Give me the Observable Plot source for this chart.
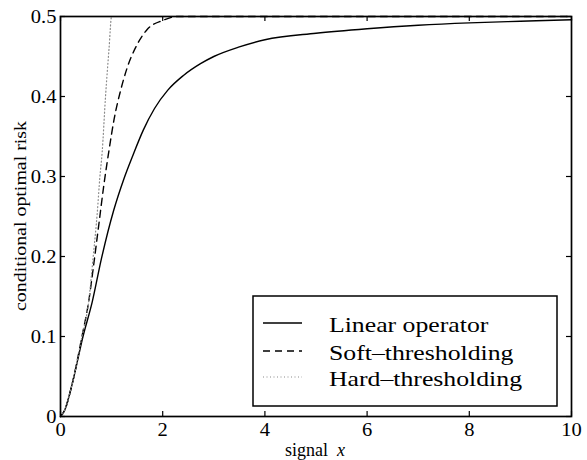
<!DOCTYPE html>
<html><head><meta charset="utf-8">
<script src="https://cdn.jsdelivr.net/npm/d3@7"></script>
<script src="https://cdn.jsdelivr.net/npm/@observablehq/plot@0.6"></script>
<style>
body{margin:0;background:#fff}
#chart{position:relative;width:587px;height:460px}
#chart svg text{font-family:"Liberation Serif","Times New Roman",serif}
</style>
</head><body><div id="chart"></div>
<script>
const xTicks = [0, 2, 4, 6, 8, 10];
const yTicks = [0, 0.1, 0.2, 0.3, 0.4, 0.5];
const seriesNames = ["Linear operator", "Soft\u2013thresholding", "Hard\u2013thresholding"];

const linearX = [0, 0.08, 0.23, 0.44, 0.62, 0.8, 1.04, 1.24, 1.42, 1.62, 1.84, 2.1, 2.4, 2.74, 3.0, 3.5, 4, 5, 6, 7, 8, 9, 10];
const linearY = [0, 0.0075, 0.041, 0.10, 0.143, 0.197, 0.2575, 0.297, 0.327, 0.358, 0.385, 0.408, 0.426, 0.441, 0.45, 0.462, 0.471, 0.479, 0.4846, 0.489, 0.492, 0.494, 0.4959];

const softX = [0, 0.08, 0.23, 0.42, 0.55, 0.65, 0.75, 0.85, 0.95, 1.05, 1.17, 1.3, 1.5, 1.7, 2.0, 2.3, 10];
const softY = [0, 0.0075, 0.041, 0.10, 0.143, 0.19, 0.24, 0.29, 0.333, 0.372, 0.406, 0.435, 0.465, 0.484, 0.495, 0.5, 0.5];

const hardX = [0, 0.08, 0.23, 0.42, 0.55, 0.64, 0.72, 0.77, 0.815, 0.88, 0.95, 1.0, 10];
const hardY = [0, 0.0075, 0.041, 0.10, 0.143, 0.2, 0.255, 0.299, 0.33, 0.399, 0.46, 0.5, 0.5];

const styles = [
  {stroke: "black", dash: null, width: 1.4},
  {stroke: "black", dash: "7,5", width: 1.4},
  {stroke: "#8a8a8a", dash: "1,2.5", width: 1.2}
];

const toRows = (xs, ys, s) => xs.map((x, i) => ({series: s, x, y: ys[i]}));
const seriesData = [
  toRows(linearX, linearY, seriesNames[0]),
  toRows(softX, softY, seriesNames[1]),
  toRows(hardX, hardY, seriesNames[2])
];

const FONT = "Liberation Serif, Times New Roman, serif";
const W = 587, H = 460, ML = 60, MR = 16, MT = 16, MB = 44;
const TICK = 5;
const innerW = W - ML - MR, innerH = H - MT - MB;

const chart = Plot.plot({
  width: W, height: H,
  marginLeft: ML, marginRight: MR, marginTop: MT, marginBottom: MB,
  x: {domain: [0, 10]},
  y: {domain: [0, 0.5]},
  style: {fontFamily: FONT, fontSize: "18px", color: "black", background: "white", overflow: "visible"},
  marks: [
    ...seriesData.map((d, i) => Plot.line(d, {x: "x", y: "y", curve: "monotone-x",
      stroke: styles[i].stroke, strokeWidth: styles[i].width, strokeDasharray: styles[i].dash})),
    Plot.frame({stroke: "black", strokeWidth: 1.7}),
    // inward ticks on all four sides
    Plot.tickX(xTicks, {x: d => d, stroke: "black", strokeWidth: 1.2, insetTop: innerH - TICK}),
    Plot.tickX(xTicks, {x: d => d, stroke: "black", strokeWidth: 1.2, insetBottom: innerH - TICK}),
    Plot.tickY(yTicks, {y: d => d, stroke: "black", strokeWidth: 1.2, insetRight: innerW - TICK}),
    Plot.tickY(yTicks, {y: d => d, stroke: "black", strokeWidth: 1.2, insetLeft: innerW - TICK}),
    Plot.axisX({anchor: "bottom", ticks: xTicks, tickSize: 0, tickPadding: 6, tickFormat: d => String(d), label: null, fontSize: 19, fontFamily: FONT}),
    Plot.axisY({anchor: "left", ticks: yTicks, tickSize: 0, tickPadding: 4, tickFormat: d => String(d), label: null, fontSize: 19, fontFamily: FONT})
  ]
});
document.getElementById("chart").appendChild(chart);

const svg = d3.select(chart);
// axis titles
svg.append("text")
  .attr("transform", "translate(26,216) rotate(-90)")
  .attr("text-anchor", "middle")
  .attr("font-size", 17)
  .attr("fill", "black")
  .attr("class", "stretch")
  .text("conditional optimal risk");
const xl = svg.append("text")
  .attr("x", 315).attr("y", 456)
  .attr("text-anchor", "middle")
  .attr("font-size", 18)
  .attr("fill", "black");
xl.append("tspan").text("signal\u00a0\u00a0");
xl.append("tspan").attr("font-style", "italic").text("x");

// legend
const lg = svg.append("g").attr("font-size", 22).attr("text-anchor", "start");
lg.append("rect").attr("x", 253).attr("y", 296).attr("width", 304).attr("height", 110)
  .attr("fill", "white").attr("stroke", "black").attr("stroke-width", 1.5);
const rowY = [323, 351, 377];
seriesNames.forEach((name, i) => {
  lg.append("line").attr("x1", 263).attr("x2", 302).attr("y1", rowY[i]).attr("y2", rowY[i])
    .attr("stroke", styles[i].stroke).attr("stroke-width", styles[i].width)
    .attr("stroke-dasharray", styles[i].dash);
  lg.append("text").attr("x", 329).attr("y", rowY[i] + 9).attr("fill", "black")
    .attr("text-anchor", "start").attr("font-size", 22)
    .attr("class", "stretch").text(name);
});

function stretch(sel, k) {
  sel.each(function () {
    const L = this.getComputedTextLength();
    if (L > 0) {
      this.setAttribute("textLength", L * k);
      this.setAttribute("lengthAdjust", "spacingAndGlyphs");
    }
  });
}
stretch(svg.selectAll("g[aria-label$='tick label'] text"), 1.08);
stretch(svg.selectAll("text.stretch"), 1.17);
</script>
</body></html>
